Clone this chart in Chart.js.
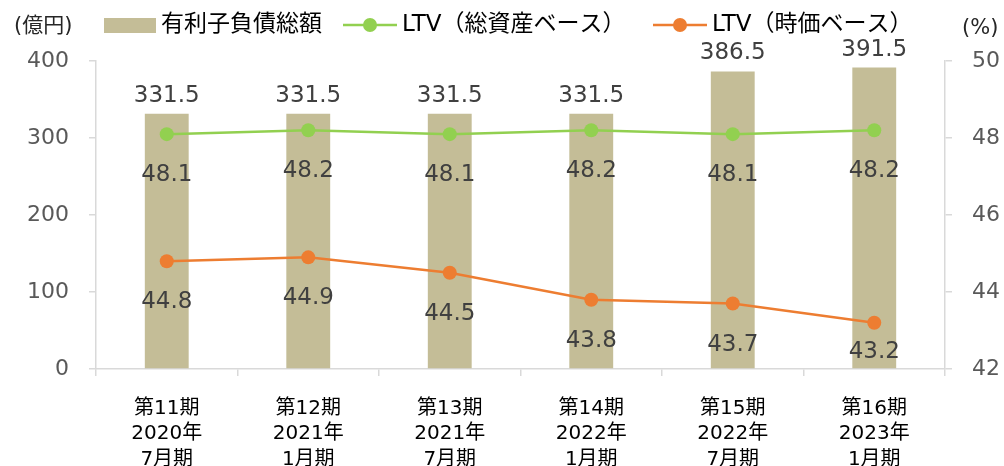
<!DOCTYPE html>
<html><head><meta charset="utf-8">
<script src="https://cdn.jsdelivr.net/npm/chart.js@4/dist/chart.umd.min.js"></script>
<style>html,body{margin:0;padding:0;background:#fff}#wrap{width:1004px;height:466px;position:relative}</style>
</head><body><div id="wrap"><canvas id="c" width="1004" height="466"></canvas></div>
<script>
const categories = [["第11期","2020年","7月期"],["第12期","2021年","1月期"],["第13期","2021年","7月期"],["第14期","2022年","1月期"],["第15期","2022年","7月期"],["第16期","2023年","1月期"]];
const debtValues = [331.5, 331.5, 331.5, 331.5, 386.5, 391.5];
const ltvBookValues = [48.1, 48.2, 48.1, 48.2, 48.1, 48.2];
const ltvMarketValues = [44.8, 44.9, 44.5, 43.8, 43.7, 43.2];
const seriesNames = ["有利子負債総額", "LTV（総資産ベース）", "LTV（時価ベース）"];
const leftUnit = "(億円)", rightUnit = "(%)";

const BAR = "#C4BD97", GREEN = "#92D050", ORANGE = "#ED7D31";
const NUMFONT = '"DejaVu Sans", "Noto Sans CJK JP", sans-serif';
const JPFONT = '"DejaVu Sans", "Noto Sans CJK JP", sans-serif';

const labelPlugin = {
  id: 'labels',
  afterDatasetsDraw(chart) {
    const ctx = chart.ctx;
    const bottom = chart.chartArea.bottom;
    ctx.save();
    ctx.font = '23px ' + NUMFONT;
    ctx.fillStyle = '#404040';
    ctx.textAlign = 'center';
    ctx.textBaseline = 'middle';
    chart.data.datasets.forEach((ds, i) => {
      const meta = chart.getDatasetMeta(i);
      meta.data.forEach((el, j) => {
        const v = ds.data[j].toFixed(1);
        if (ds.type === 'bar') ctx.fillText(v, el.x, el.y - 18);
        else ctx.fillText(v, el.x, Math.min(el.y + 41, bottom - 17));
      });
    });
    ctx.restore();
  }
};

const legendPlugin = {
  id: 'customLegend',
  afterDraw(chart) {
    const ctx = chart.ctx;
    ctx.save();
    const y = 25;
    ctx.textBaseline = 'middle';
    ctx.font = '23px ' + JPFONT;
    ctx.fillStyle = BAR; ctx.fillRect(104, 18, 52, 15);
    ctx.fillStyle = '#000'; ctx.textAlign = 'left';
    ctx.fillText(seriesNames[0], 161, y);
    const lines = [[343, GREEN, seriesNames[1]], [653, ORANGE, seriesNames[2]]];
    lines.forEach(([x, col, name]) => {
      ctx.strokeStyle = col; ctx.lineWidth = 2.5;
      ctx.beginPath(); ctx.moveTo(x, y); ctx.lineTo(x + 54, y); ctx.stroke();
      ctx.fillStyle = col; ctx.beginPath(); ctx.arc(x + 27, y, 7, 0, Math.PI * 2); ctx.fill();
      ctx.fillStyle = '#000'; ctx.fillText(name, x + 59, y);
    });
    ctx.font = '21px ' + JPFONT;
    ctx.fillStyle = '#262626';
    ctx.fillText(leftUnit, 14, 27);
    ctx.fillText(rightUnit, 962, 29);
    ctx.restore();
  }
};

new Chart(document.getElementById('c'), {
  data: {
    labels: categories,
    datasets: [
      { type: 'line', label: seriesNames[1], data: ltvBookValues, yAxisID: 'y1', borderColor: GREEN, backgroundColor: GREEN, borderWidth: 2.5, pointRadius: 7, pointBackgroundColor: GREEN, pointBorderColor: GREEN, pointBorderWidth: 0, order: 1 },
      { type: 'line', label: seriesNames[2], data: ltvMarketValues, yAxisID: 'y1', borderColor: ORANGE, backgroundColor: ORANGE, borderWidth: 2.5, pointRadius: 7, pointBackgroundColor: ORANGE, pointBorderColor: ORANGE, pointBorderWidth: 0, order: 1 },
      { type: 'bar', label: seriesNames[0], data: debtValues, yAxisID: 'y', backgroundColor: BAR, barPercentage: 0.31, categoryPercentage: 1, order: 2 }
    ]
  },
  options: {
    responsive: false,
    animation: false,
    layout: { padding: { top: 61, bottom: 0, left: 0, right: 0 } },
    plugins: { legend: { display: false }, tooltip: { enabled: false } },
    scales: {
      x: {
        offset: true,
        grid: { offset: true, drawOnChartArea: false, color: '#d9d9d9', tickLength: 7, lineWidth: 1.5 },
        border: { color: '#d9d9d9', width: 1.5 },
        ticks: { color: '#000', font: { size: 20, family: JPFONT, lineHeight: 1.27 }, padding: 20, maxRotation: 0, autoSkip: false },
        afterFit(s) { s.height = 97; }
      },
      y: {
        position: 'left', min: 0, max: 400,
        grid: { drawOnChartArea: false, color: '#d9d9d9', tickLength: 7, lineWidth: 1.5 },
        border: { color: '#d9d9d9', width: 1.5 },
        ticks: { stepSize: 100, color: '#595959', font: { size: 22, family: NUMFONT }, padding: 20 },
        afterFit(s) { s.width = 96; }
      },
      y1: {
        position: 'right', min: 42, max: 50,
        grid: { drawOnChartArea: false, color: '#d9d9d9', tickLength: 7, lineWidth: 1.5 },
        border: { color: '#d9d9d9', width: 1.5 },
        ticks: { stepSize: 2, color: '#595959', font: { size: 22, family: NUMFONT }, padding: 20 },
        afterFit(s) { s.width = 59; }
      }
    }
  },
  plugins: [labelPlugin, legendPlugin]
});
</script></body></html>
